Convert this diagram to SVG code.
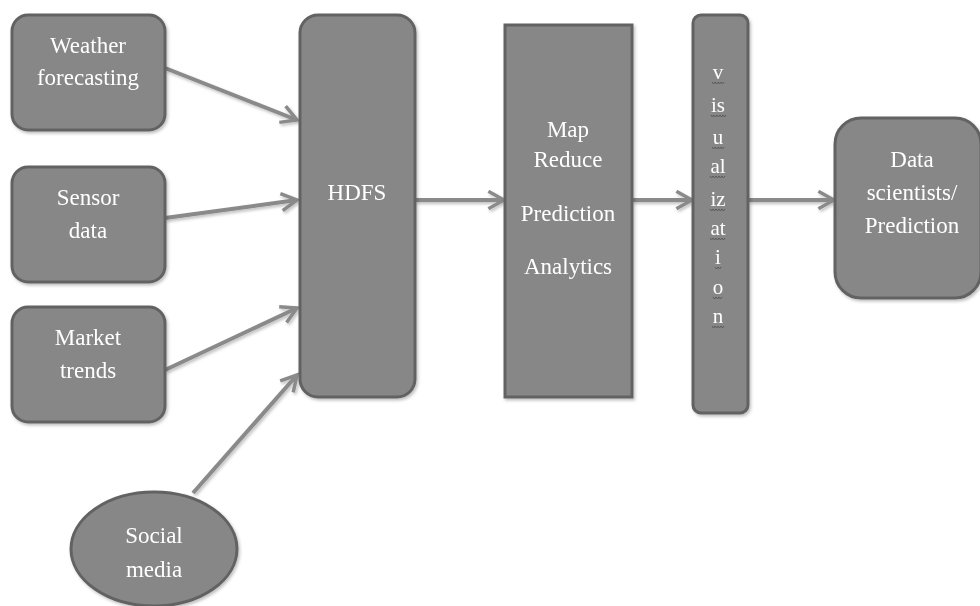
<svg xmlns="http://www.w3.org/2000/svg" width="980" height="606" viewBox="0 0 980 606">
<defs>
<style>
.box{fill:#878787;stroke:#626262;stroke-width:3}
.t{font-family:"Liberation Serif","Times New Roman",serif;font-size:23px;fill:#ffffff;text-anchor:middle}
.tv{font-family:"Liberation Serif","Times New Roman",serif;font-size:21px;fill:#ffffff;text-anchor:middle}
.c{fill:none;stroke:#8a8a8a;stroke-width:4;stroke-linecap:butt}
.sq{fill:none;stroke:#5a5a5a;stroke-width:1}
</style>
<marker id="ah" viewBox="0 0 12 12" refX="10" refY="6" markerWidth="5.2" markerHeight="5.2" orient="auto" markerUnits="strokeWidth">
<path d="M1,1 L10,6 L1,11" fill="none" stroke="#8a8a8a" stroke-width="2" stroke-linejoin="miter"/>
</marker>
<filter id="sh" x="-10%" y="-10%" width="130%" height="130%">
<feDropShadow dx="1.5" dy="2" stdDeviation="1.5" flood-color="#000" flood-opacity="0.25"/>
</filter>
</defs>
<rect width="980" height="606" fill="#ffffff"/>
<g id="connectors" filter="url(#sh)">
<line class="c" x1="165" y1="68" x2="297" y2="120" marker-end="url(#ah)"/>
<line class="c" x1="165" y1="218" x2="297" y2="200" marker-end="url(#ah)"/>
<line class="c" x1="165" y1="370" x2="297" y2="308" marker-end="url(#ah)"/>
<line class="c" x1="193" y1="493" x2="297" y2="375" marker-end="url(#ah)"/>
<line class="c" x1="415" y1="200" x2="504" y2="200" marker-end="url(#ah)"/>
<line class="c" x1="632" y1="200" x2="692" y2="200" marker-end="url(#ah)"/>
<line class="c" x1="748" y1="200" x2="834" y2="200" marker-end="url(#ah)"/>
</g>
<g id="weather" filter="url(#sh)">
<rect class="box" x="12" y="15" width="153" height="115" rx="16"/>
<text class="t" x="88" y="53">Weather</text>
<text class="t" x="88" y="85">forecasting</text>
</g>
<g id="sensor" filter="url(#sh)">
<rect class="box" x="12" y="167" width="153" height="115" rx="16"/>
<text class="t" x="88" y="205">Sensor</text>
<text class="t" x="88" y="238">data</text>
</g>
<g id="market" filter="url(#sh)">
<rect class="box" x="12" y="307" width="153" height="115" rx="16"/>
<text class="t" x="88" y="345">Market</text>
<text class="t" x="88" y="378">trends</text>
</g>
<g id="social" filter="url(#sh)">
<ellipse class="box" cx="154" cy="549" rx="83" ry="57"/>
<text class="t" x="154" y="543">Social</text>
<text class="t" x="154" y="577">media</text>
</g>
<g id="hdfs" filter="url(#sh)">
<rect class="box" x="300" y="15" width="115" height="382" rx="18"/>
<text class="t" x="357" y="200">HDFS</text>
</g>
<g id="mapreduce" filter="url(#sh)">
<rect class="box" x="505" y="25" width="127" height="372"/>
<text class="t" x="568" y="137">Map</text>
<text class="t" x="568" y="167">Reduce</text>
<text class="t" x="568" y="221">Prediction</text>
<text class="t" x="568" y="274">Analytics</text>
</g>
<g id="visualization" filter="url(#sh)">
<rect class="box" x="693" y="15" width="55" height="398" rx="8"/>
<text class="tv" x="718" y="79">v</text>
<text class="tv" x="718" y="112">is</text>
<text class="tv" x="718" y="144">u</text>
<text class="tv" x="718" y="173">al</text>
<text class="tv" x="718" y="206">iz</text>
<text class="tv" x="718" y="235">at</text>
<text class="tv" x="718" y="264">i</text>
<text class="tv" x="718" y="294">o</text>
<text class="tv" x="718" y="323">n</text>
<path class="sq" d="M712,82 l1.5,2 l1.5,-2 l1.5,2 l1.5,-2 l1.5,2 l1.5,-2 l1.5,2 l1.5,-2"/>
<path class="sq" d="M711,115 l1.5,2 l1.5,-2 l1.5,2 l1.5,-2 l1.5,2 l1.5,-2 l1.5,2 l1.5,-2 l1.5,2 l1.5,-2"/>
<path class="sq" d="M712,147 l1.5,2 l1.5,-2 l1.5,2 l1.5,-2 l1.5,2 l1.5,-2 l1.5,2 l1.5,-2"/>
<path class="sq" d="M710,176 l1.5,2 l1.5,-2 l1.5,2 l1.5,-2 l1.5,2 l1.5,-2 l1.5,2 l1.5,-2 l1.5,2 l1.5,-2"/>
<path class="sq" d="M710,209 l1.5,2 l1.5,-2 l1.5,2 l1.5,-2 l1.5,2 l1.5,-2 l1.5,2 l1.5,-2 l1.5,2 l1.5,-2"/>
<path class="sq" d="M710,238 l1.5,2 l1.5,-2 l1.5,2 l1.5,-2 l1.5,2 l1.5,-2 l1.5,2 l1.5,-2 l1.5,2 l1.5,-2"/>
<path class="sq" d="M715,267 l1.5,2 l1.5,-2 l1.5,2 l1.5,-2"/>
<path class="sq" d="M713,297 l1.5,2 l1.5,-2 l1.5,2 l1.5,-2 l1.5,2 l1.5,-2"/>
<path class="sq" d="M712,326 l1.5,2 l1.5,-2 l1.5,2 l1.5,-2 l1.5,2 l1.5,-2 l1.5,2 l1.5,-2"/>
</g>
<g id="datascientists" filter="url(#sh)">
<rect class="box" x="835" y="118" width="146" height="180" rx="26"/>
<text class="t" x="912" y="167">Data</text>
<text class="t" x="912" y="200">scientists/</text>
<text class="t" x="912" y="233">Prediction</text>
</g>
</svg>
